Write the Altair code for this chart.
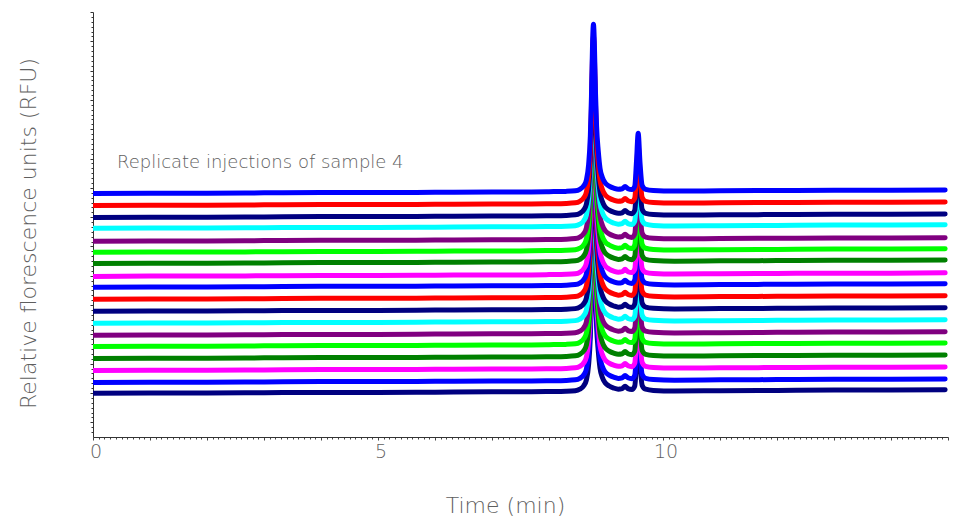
import altair as alt
import pandas as pd

# ---- data ----
# shared time grid (min) and the trace shape above each trace's starting baseline (RFU units)
TIME = [0, 1, 2, 3, 4, 5, 6, 7, 7.5, 8.0, 8.3, 8.46, 8.54, 8.61, 8.655, 8.695, 8.725, 8.745,
        8.765, 8.78, 8.795, 8.815, 8.835, 8.865, 8.895, 8.935, 8.985, 9.055, 9.135, 9.215, 9.285,
        9.335, 9.385, 9.455, 9.505, 9.535, 9.565, 9.595, 9.635, 9.695, 9.83, 10.2, 11, 12, 13, 14, 14.95]
SHAPE = [0.00, 0.01, 0.01, 0.02, 0.03, 0.03, 0.04, 0.05, 0.05, 0.06, 0.07, 0.09, 0.14, 0.26,
         0.45, 0.98, 1.95, 3.31, 5.19, 5.77, 5.19, 3.48, 2.29, 1.43, 0.86, 0.55, 0.36, 0.25,
         0.18, 0.14, 0.16, 0.24, 0.16, 0.13, 0.25, 1.09, 2.05, 1.09, 0.27, 0.14, 0.10, 0.08,
         0.09, 0.10, 0.11, 0.11, 0.12]

# baseline level of each replicate, bottom trace first
OFFSETS = [0.99, 1.36, 1.77, 2.18, 2.59, 2.97, 3.38, 3.79, 4.20, 4.61,
           4.98, 5.42, 5.80, 6.18, 6.62, 6.99, 7.40, 7.81]
COLORS = ["#000080", "#0000ff", "#ff00ff", "#008000", "#00ff00", "#800080", "#00ffff",
          "#000080", "#ff0000", "#0000ff", "#ff00ff", "#008000", "#00ff00", "#800080",
          "#00ffff", "#000080", "#ff0000", "#0000ff"]

X_TICKS = [i / 10 for i in range(0, 151)]
X_LABELS = [0, 5, 10]
Y_TICKS = [round(i / 6, 4) for i in range(-2, 85)]
Y_BOTTOM = -0.5

ANNOT_TEXT = ["Replicate injections of sample 4"]
ANNOT_TIME = [0.42]
ANNOT_RFU = [8.85]

FONT = "DejaVu Sans"
TEXT_COLOR = "#5e5e5e"

major_test = "abs(datum.value - round(datum.value)) < 0.01"

x_enc = alt.X(
    "time:Q",
    scale=alt.Scale(domain=[0, 15], nice=False, zero=False),
    axis=alt.Axis(
        values=X_TICKS,
        labels=False,
        title="Time (min)",
        tickSize={"condition": {"test": major_test, "value": 3}, "value": 2},
        tickColor="#444444",
        tickWidth=1,
        domainColor="#333333",
        domainWidth=1,
        grid=False,
        titleFont=FONT,
        titleFontSize=22,
        titleFontWeight=200,
        titleColor=TEXT_COLOR,
        titleX=412,
        titleY=68,
        titleAlign="center",
        titleBaseline="middle",
    ),
)

y_enc = alt.Y(
    "rfu:Q",
    scale=alt.Scale(domain=[Y_BOTTOM, 14], nice=False, zero=False),
    axis=alt.Axis(
        values=Y_TICKS,
        labels=False,
        title="Relative florescence units (RFU)",
        tickSize={"condition": {"test": major_test, "value": 3}, "value": 2},
        tickColor="#333333",
        tickWidth=1,
        domainColor="#333333",
        domainWidth=1,
        grid=False,
        titleFont=FONT,
        titleFontSize=22,
        titleFontWeight=200,
        titleColor=TEXT_COLOR,
        titleX=-65,
        titleY=221,
        titleAngle=270,
        titleAlign="center",
        titleBaseline="middle",
    ),
)

layers = []
for off, col in zip(OFFSETS, COLORS):
    df = pd.DataFrame({"time": TIME, "rfu": [off + s for s in SHAPE]})
    layers.append(
        alt.Chart(df).mark_line(
            color=col, strokeWidth=5, interpolate="monotone", strokeCap="round", clip=True
        ).encode(x=x_enc, y=y_enc)
    )

# x tick labels as text marks
xl = pd.DataFrame({"time": X_LABELS, "rfu": [Y_BOTTOM] * len(X_LABELS),
                   "text": [str(v) for v in X_LABELS]})
layers.append(
    alt.Chart(xl).mark_text(
        align="center", baseline="middle", dx=3, dy=15, font=FONT, fontSize=19,
        fontWeight=200, color=TEXT_COLOR
    ).encode(x=x_enc, y=y_enc, text="text:N")
)

annot = pd.DataFrame({"time": ANNOT_TIME, "rfu": ANNOT_RFU, "text": ANNOT_TEXT})
layers.append(
    alt.Chart(annot).mark_text(
        align="left", baseline="middle", font=FONT, fontSize=18, fontWeight=200, color=TEXT_COLOR
    ).encode(x=x_enc, y=y_enc, text="text:N")
)

chart = alt.layer(*layers).properties(
    width=855,
    height=425,
    autosize=alt.AutoSizeParams(type="none"),
    padding={"left": 93, "top": 12, "right": 18, "bottom": 82},
    background="white",
).configure_view(stroke=None)

chart.save("out.html", embed_options={"renderer": "svg", "actions": False})
